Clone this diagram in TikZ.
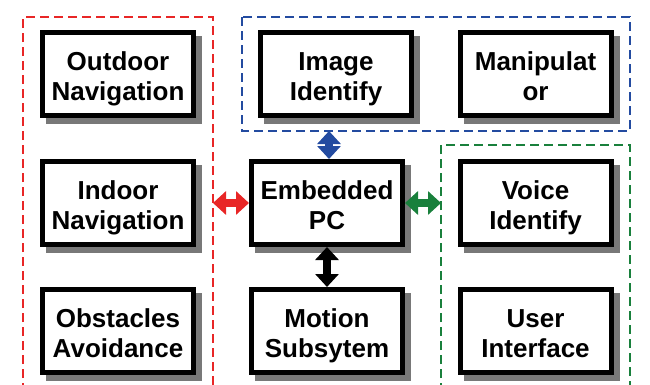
\documentclass[tikz,border=0pt]{standalone}
\usepackage{fontspec}
\setmainfont{Liberation Sans}
\usetikzlibrary{arrows.meta,backgrounds}
\definecolor{grpred}{RGB}{232,38,38}
\definecolor{grpblue}{RGB}{35,75,160}
\definecolor{grpgreen}{RGB}{25,128,60}
\definecolor{shadegray}{RGB}{120,120,120}
\tikzset{
  blockbox/.style={draw=black, line width=5pt, fill=white, minimum width=151pt, minimum height=83pt,
    inner sep=0pt, align=center, font=\fontsize{26}{30}\selectfont\bfseries,
    text height=58pt, text depth=5pt},
  boxshadow/.style={fill=shadegray},
  grpline/.style={line width=2.5pt, dash pattern=on 9pt off 5pt},
  dblarrow/.style={line width=8pt, {Triangle[width=23pt,length=13pt]}-{Triangle[width=23pt,length=13pt]}}
}
\begin{document}
\begin{tikzpicture}[x=1pt,y=-1pt]
\useasboundingbox (0,0) rectangle (650,384);
% blocks
\node[blockbox] (out) at (118,74) {Outdoor\\Navigation};
\node[blockbox] (ind) at (118,203) {Indoor\\Navigation};
\node[blockbox] (obs) at (118,331) {Obstacles\\Avoidance};
\node[blockbox] (img) at (336,74) {Image\\Identify};
\node[blockbox] (emb) at (327,203) {Embedded\\PC};
\node[blockbox] (mot) at (327,331) {Motion\\Subsytem};
\node[blockbox] (man) at (535.5,74) {Manipulat\\or};
\node[blockbox] (voi) at (535.5,203) {Voice\\Identify};
\node[blockbox] (usr) at (535.5,331) {User\\Interface};
\begin{scope}[on background layer]
% group frames
\draw[grpline, grpred] (23,392) -- (23,17) -- (213,17) -- (213,392);
\draw[grpline, grpblue] (242,17) rectangle (630,131);
\draw[grpline, grpgreen] (441,392) -- (441,145) -- (630,145) -- (630,392);
% shadows, 6pt right and down of each block
\foreach \n in {out,ind,obs,img,emb,mot,man,voi,usr}{
  \fill[boxshadow] ([xshift=6pt,yshift=-6pt]\n.south west) rectangle ([xshift=6pt,yshift=-6pt]\n.north east);
}
\end{scope}
% connector ends on the group frames
\coordinate (redE) at (213,203);
\coordinate (greenW) at (441,203);
\coordinate (blueS) at (329,131);
% connectors
\draw[dblarrow, grpblue] (blueS) -- (blueS |- emb.north);
\draw[dblarrow, grpred] (redE) -- (emb.west);
\draw[dblarrow, grpgreen] (emb.east) -- (greenW);
\draw[dblarrow, black] (emb.south) -- (mot.north);
\end{tikzpicture}
\end{document}
